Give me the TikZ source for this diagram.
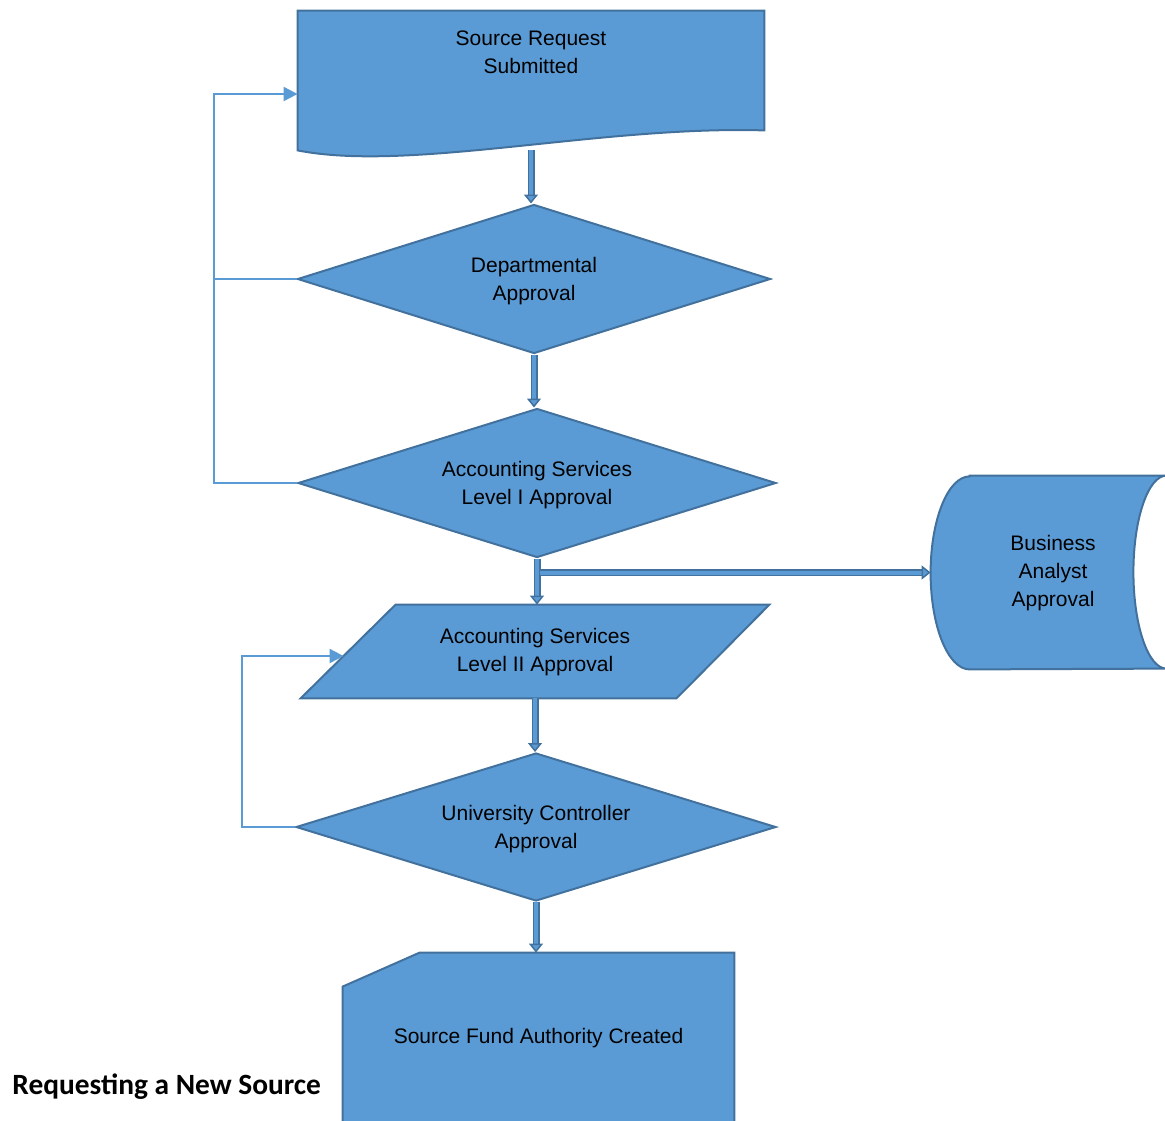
\documentclass[tikz,border=0pt]{standalone}
\usepackage{fontspec}
\setmainfont{Liberation Sans}
\newfontfamily\captionfont{Carlito}
\usepackage{tikz}
\usetikzlibrary{arrows.meta,positioning,calc,shapes.geometric}
\definecolor{flowblue}{HTML}{5B9BD5}
\definecolor{flowedge}{HTML}{41719C}
\newcommand{\boxfont}{\fontsize{10.5}{14}\selectfont}
\tikzset{
  % Common outline and fill of the boxes
  boxline/.style={draw=flowedge,line width=1pt,fill=flowblue},
  % Decision diamonds
  decide/.style={boxline,diamond,aspect=3.2,minimum height=74.5pt,inner sep=0pt,
                 text depth=0pt},
  % Input parallelogram
  slantshape/.style={draw=none,minimum width=234pt,minimum height=46.5pt,inner sep=0pt,
    append after command={
      \pgfextra{
        \draw[boxline] (\tikzlastnode.south west) -- ([xshift=47.5pt]\tikzlastnode.north west)
          -- (\tikzlastnode.north east) -- ([xshift=-46.5pt]\tikzlastnode.south east) -- cycle;
      }
    }
  },
  % Document with wavy bottom
  docshape/.style={draw=none,minimum width=233pt,minimum height=69.5pt,inner sep=0pt,
    append after command={
      \pgfextra{
        \draw[boxline] (\tikzlastnode.south west) -- (\tikzlastnode.north west)
          -- (\tikzlastnode.north east) -- ([yshift=10pt]\tikzlastnode.south east)
          .. controls ([xshift=-82pt,yshift=12.5pt]\tikzlastnode.south east)
          and ([xshift=56pt,yshift=-11pt]\tikzlastnode.south west)
          .. (\tikzlastnode.south west) -- cycle;
      }
    }
  },
  % Card with cut corner
  cardshape/.style={draw=none,minimum width=195.5pt,minimum height=88.5pt,inner sep=0pt,
    append after command={
      \pgfextra{
        \draw[boxline] ([xshift=38.5pt]\tikzlastnode.north west) -- (\tikzlastnode.north east)
          -- (\tikzlastnode.south east) -- (\tikzlastnode.south west)
          -- ([yshift=-17pt]\tikzlastnode.north west) -- cycle;
      }
    }
  },
  % Stored data drum, lying on its side
  drumshape/.style={draw=none,minimum width=134pt,minimum height=96.5pt,inner sep=0pt,
    append after command={
      \pgfextra{
        \draw[boxline] ([xshift=19.5pt]\tikzlastnode.north west)
          -- ([xshift=-16.5pt]\tikzlastnode.north east)
          arc[start angle=90,end angle=270,x radius=16.5pt,y radius=48.25pt]
          -- ([xshift=19.5pt]\tikzlastnode.south west)
          arc[start angle=270,end angle=90,x radius=19.5pt,y radius=48.25pt]
          -- cycle;
      }
    }
  },
  % Box texts
  txt/.style={align=center,font=\boxfont,inner sep=1pt},
  % Connectors
  blk/.style={draw=flowedge,line width=0.75pt,double=flowblue,double distance=2pt,
              -{Triangle[length=4.5pt,width=7pt,fill=flowblue,line width=0.75pt]}},
  loopback/.style={draw=flowblue,line width=1pt,-{Triangle[length=7pt,width=7pt]}}
}

\begin{document}
\begin{tikzpicture}[x=0.5pt,y=-0.5pt]
  \clip (0,0) rectangle (1165,1120);

  % Main column
  \node[docshape] (src) at (531,80.5) {};
  \node[txt] (srctxt) at (531,52) {Source Request\\Submitted};
  \node[decide,txt,minimum width=236.5pt] (dept) at (534,279) {Departmental\\Approval};
  \node[decide,txt,minimum width=239pt] (acc1) at (537,483) {Accounting Services\\Level I Approval};
  \node[slantshape] (acc2) at (535,651.5) {};
  \node[txt] (acc2txt) at (535,652) {Accounting Services\\Level II Approval};
  \node[decide,txt,minimum width=240pt,minimum height=74pt] (ucap) at (536,827) {University Controller\\Approval};
  \node[cardshape] (sfa) at (538.5,1041.5) {};
  \node[txt] (sfatxt) at (538.5,1038) {Source Fund Authority Created};

  % Side branch
  \node[drumshape] (biz) at (1065,572.5) {};
  \node[txt] (biztxt) at (1053,573) {Business\\Analyst\\Approval};

  % Caption
  \node[font=\captionfont\fontsize{14.7}{17}\selectfont\bfseries,anchor=base west,inner sep=0pt]
    (title) at (12,1094) {Requesting a New Source};

  % Forward flow
  \draw[blk] (src.south) -- (src.south |- dept.north);
  \draw[blk] (dept.south) -- (dept.south |- acc1.north);
  \draw[blk] (acc1.south) -- (acc1.south |- acc2.north);
  \draw[blk] ([xshift=1.5pt]acc1.south |- biz.west) -- (biz.west);
  \draw[blk] (acc2.south) -- (acc2.south |- ucap.north);
  \draw[blk] (ucap.south) -- (ucap.south |- sfa.north);

  % Send back
  \draw[loopback] (acc1.west) -- ++(-83,0) |- ([yshift=-6.75pt]src.west);
  \draw[loopback,-] (dept.west) -- ++(-83,0);
  \draw[loopback] (ucap.west) -- ++(-53,0) |- ([xshift=21.5pt,yshift=-2.25pt]acc2.west);
\end{tikzpicture}
\end{document}
